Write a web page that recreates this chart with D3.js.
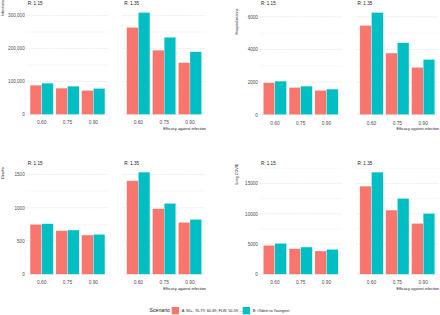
<!DOCTYPE html>
<html>
<head>
<meta charset="utf-8">
<script src="https://cdn.jsdelivr.net/npm/d3@7"></script>
<style>
  body { margin: 0; background: #fff; }
  svg { font-family: "Liberation Sans", Arial, sans-serif; }
</style>
</head>
<body>
<svg width="440" height="315"></svg>
<script>
// ===== données ===== //
const efficacy = ["0.60", "0.75", "0.90"];
const strips = ["R: 1.15", "R: 1.35"];
const scenarios = ["A: 80+, 70-79, 60-69, FLW, 50-59, ...", "B: Oldest to Youngest"];
const colors = ["#F8766D", "#00BFC4"];

// [R][scénario][efficacité]
const infections = [
  [[89000, 80000, 73000], [95000, 86000, 79000]],
  [[264000, 195000, 157000], [309000, 234000, 190000]]
];
const hospitalisations = [
  [[1960, 1670, 1490], [2060, 1755, 1570]],
  [[5470, 3780, 2900], [6265, 4410, 3390]]
];
const deaths = [
  [[750, 655, 590], [760, 665, 600]],
  [[1405, 985, 780], [1535, 1065, 825]]
];
const longCovid = [
  [[4780, 4230, 3850], [5110, 4500, 4120]],
  [[14560, 10600, 8400], [16870, 12530, 10050]]
];

const infTicks = [0, 100000, 200000, 300000];
const hospTicks = [0, 2000, 4000, 6000];
const deathTicks = [0, 500, 1000, 1500];
const lcTicks = [0, 5000, 10000, 15000];

const svg = d3.select("svg");

// un graphique = 2 facettes
const plots = [
  {data: infections, ticks: infTicks, title: "Infections", ox: 0, base: 114.5, top: 7.4, fmt: d3.format(","), titleY: 8},
  {data: hospitalisations, ticks: hospTicks, title: "Hospitalisations", ox: 233.2, base: 114.7, top: 7.4, fmt: d3.format("d"), titleY: 21.5},
  {data: deaths, ticks: deathTicks, title: "Deaths", ox: 0, base: 274.3, top: 167, fmt: d3.format("d"), titleY: 173},
  {data: longCovid, ticks: lcTicks, title: "Long COVID", ox: 233.2, base: 274.3, top: 167, fmt: d3.format("d"), titleY: 174}
];

const panelX = [[26.2, 108.8], [122.8, 205.5]];

plots.forEach(p => {
  const g = svg.append("g").attr("transform", `translate(${p.ox},0)`);
  const ymax = d3.max(p.data.flat(2)) * 1.05;
  const y = d3.scaleLinear().domain([0, ymax]).range([p.base, p.top]);

  // minor gridlines
  const minors = [];
  for (let i = 0; i < p.ticks.length; i++) {
    const step = p.ticks[1] - p.ticks[0];
    const m = p.ticks[i] + step / 2;
    if (m < ymax) minors.push(m);
  }

  p.data.forEach((facet, fi) => {
    const [x0, x1] = panelX[fi];
    const x = d3.scaleBand().domain(efficacy).range([x0, x1]).paddingInner(0.1).paddingOuter(0.15);
    const xs = d3.scaleBand().domain([0, 1]).range([0, x.bandwidth()]);
    const pg = g.append("g");

    pg.selectAll("line.minor").data(minors).join("line")
      .attr("class", "minor")
      .attr("x1", x0).attr("x2", x1)
      .attr("y1", d => y(d)).attr("y2", d => y(d))
      .attr("stroke", "#f0f0f0").attr("stroke-width", 0.5);

    pg.selectAll("line.major").data(p.ticks).join("line")
      .attr("class", "major")
      .attr("x1", x0).attr("x2", x1)
      .attr("y1", d => y(d)).attr("y2", d => y(d))
      .attr("stroke", "#dedede").attr("stroke-width", 0.6)
      .attr("stroke-dasharray", "1.5,1");

    // barres
    facet.forEach((vals, si) => {
      pg.selectAll(null).data(vals).join("rect")
        .attr("x", (d, i) => x(efficacy[i]) + xs(si))
        .attr("width", xs.bandwidth())
        .attr("y", d => y(d))
        .attr("height", d => y(0) - y(d))
        .attr("fill", colors[si])
        .attr("stroke", "#fff").attr("stroke-width", 0.3);
    });

    // axe x
    const ax = pg.append("g").attr("transform", `translate(0,${p.base})`)
      .call(d3.axisBottom(x).tickSize(0).tickPadding(6.5));
    ax.select(".domain").remove();
    ax.selectAll("text").attr("font-size", 4.8).attr("fill", "#4d4d4d").attr("font-family", null);

    // étiquette facette
    pg.append("text")
      .attr("x", x0 + 1.5).attr("y", p.top - 2.2)
      .attr("font-size", 4.6).attr("fill", "#1a1a1a")
      .text(strips[fi]);

    if (fi === 0) {
      const ay = pg.append("g").attr("transform", `translate(${x0},0)`)
        .call(d3.axisLeft(y).tickValues(p.ticks).tickSize(0).tickPadding(1.5).tickFormat(p.fmt));
      ay.select(".domain").remove();
      ay.selectAll("text").attr("font-size", 4.6).attr("fill", "#4d4d4d").attr("font-family", null);
    } else {
      pg.append("text")
        .attr("x", x1 + 0.5).attr("y", p.base + 15.6)
        .attr("text-anchor", "end")
        .attr("font-size", 3.9).attr("fill", "#1a1a1a")
        .text("Efficacy against infection");
    }
  });

  g.append("text")
    .attr("transform", `translate(4.4,${p.titleY}) rotate(-90)`)
    .attr("text-anchor", "middle")
    .attr("font-size", 3.7).attr("fill", "#1a1a1a")
    .text(p.title);
});

// légende
const leg = svg.append("g");
leg.append("text").attr("x", 149.5).attr("y", 311.9)
  .attr("font-size", 5.2).attr("fill", "#1a1a1a").text("Scenario");
const keyX = [171.7, 242.7];
scenarios.forEach((s, i) => {
  leg.append("rect").attr("x", keyX[i]).attr("y", 307).attr("width", 7.3).attr("height", 7.3)
    .attr("fill", colors[i]);
  leg.append("text").attr("x", keyX[i] + 10).attr("y", 311.8)
    .attr("font-size", 3.8).attr("fill", "#1a1a1a").text(s);
});
</script>
</body>
</html>
